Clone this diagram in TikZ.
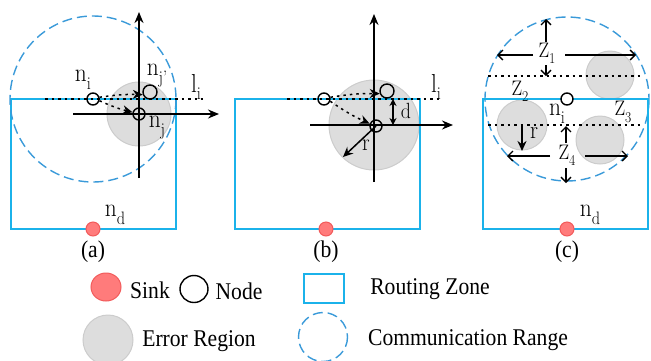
\documentclass[tikz,border=0pt]{standalone}
\usepackage{fontspec}
\newfontfamily\tnr{Liberation Serif}
\usetikzlibrary{arrows.meta}
\definecolor{zone}{HTML}{1BB2EA}
\definecolor{comm}{HTML}{3A9AD9}
\definecolor{errfill}{HTML}{DDDDDD}
\definecolor{errdraw}{HTML}{CCCCCC}
\definecolor{sinkfill}{HTML}{FF7B7B}
\definecolor{sinkdraw}{HTML}{F25A5A}
\newcommand\lab[4]{\scalebox{0.9}[1]{\fontsize{#1}{#1}\selectfont #3\raisebox{-0.3em}{\fontsize{#2}{#2}\selectfont #4}}}
\newcommand\leg[1]{\scalebox{0.9}[1]{\fontsize{24}{24}\selectfont\tnr #1}}
\tikzset{
  zonest/.style={draw=zone, line width=1.8pt},
  commst/.style={draw=comm, line width=1.4pt, dash pattern=on 10pt off 5pt},
  errst/.style={fill=errfill, draw=errdraw, line width=1pt},
  sinkst/.style={fill=sinkfill, draw=sinkdraw, line width=1pt},
  nd/.style={circle, draw, line width=1.4pt, minimum size=12pt, inner sep=0pt},
  ndb/.style={circle, draw, line width=1.4pt, minimum size=14pt, inner sep=0pt},
  dotline/.style={line width=1.5pt, dash pattern=on 2.5pt off 4pt},
  axis/.style={line width=1.6pt, -{Stealth[length=11pt,width=9pt]}},
  darr/.style={line width=1.5pt, dash pattern=on 2.5pt off 4pt, -{Stealth[length=10pt,width=9pt]}},
  zarr/.style={line width=1.3pt, -{Straight Barb[length=5pt,width=10pt]}},
  txt/.style={inner sep=0pt},
}
\begin{document}
\begin{tikzpicture}[x=1pt,y=-1pt]
\useasboundingbox (0,0) rectangle (651,360);
\clip (0,0) rectangle (651,360);
% ---------------- panel (a)
\draw[errst] (139,114) circle (32);
\draw[zonest] (11,99) rectangle (176,229);
\draw[commst] (93,99) circle (83);
\draw[dotline] (45,99) -- (203,99);
\coordinate (axl) at (73,114); \coordinate (axr) at (219,114);
\coordinate (axb) at (139,178); \coordinate (axt) at (139,12);
\draw[axis] (axl) -- (axr);
\draw[axis] (axb) -- (axt);
\node[nd] (ai) at (93,99) {};
\node[nd] (aj) at (139,114) {};
\node[ndb] (ajp) at (150,92) {};
\draw[darr] (ai.15) to[bend left=5] (ajp.200);
\draw[darr] (ai.-15) to[bend right=5] (aj.165);
\node[sinkst, circle, minimum size=14pt, inner sep=0pt] (ad) at (93,229) {};
\node[txt] (lai) at (83,80) {\lab{26}{18}{n}{i}};
\node[txt] (lajp) at (157,76) {\lab{26}{18}{n}{j’}};
\node[txt] (laj) at (157,128) {\lab{26}{18}{n}{j}};
\node[txt] (lali) at (196,87) {\lab{26}{18}{l}{i}};
\node[txt] (lad) at (115,215) {\lab{26}{18}{n}{d}};
\node[txt] (capa) at (93,252) {\leg{(a)}};
% ---------------- panel (b)
\draw[errst] (374,125) circle (45);
\draw[zonest] (235,99) rectangle (420,229);
\draw[dotline] (287,99) -- (441,99);
\coordinate (bxl) at (310,125); \coordinate (bxr) at (453,125);
\coordinate (bxb) at (374,182); \coordinate (bxt) at (374,14);
\draw[axis] (bxl) -- (bxr);
\draw[axis] (bxb) -- (bxt);
\node[nd] (bi) at (324,99) {};
\node[nd] (bj) at (376,126) {};
\node[ndb] (bjp) at (387,91) {};
\draw[darr] (bi.15) to[bend left=5] (bjp.200);
\draw[darr] (bi.-20) to[bend right=5] (bj.160);
\coordinate (dt) at (393,99); \coordinate (db) at (393,125);
\draw[line width=1.4pt, {Stealth[length=7pt,width=7pt]}-{Stealth[length=7pt,width=7pt]}] (dt) -- (db);
\node[txt] (ld) at (406,114) {\lab{22}{15}{d}{}};
\coordinate (rb) at (343,157);
\draw[line width=1.5pt, -{Stealth[length=10pt,width=9pt]}] (bj.center) -- (rb);
\node[txt] (lbr) at (366,149) {\lab{24}{16}{r}{}};
\node[txt] (lbli) at (436,87) {\lab{26}{18}{l}{i}};
\node[sinkst, circle, minimum size=14pt, inner sep=0pt] (bd) at (326,229) {};
\node[txt] (capb) at (326,252) {\leg{(b)}};
% ---------------- panel (c)
\draw[errst] (610,75) circle (24);
\draw[errst] (522,125) circle (25);
\draw[errst] (600,140) circle (24);
\draw[commst] (567,99) circle (82);
\draw[zonest] (483,99) rectangle (648,229);
\draw[dotline] (488,76) -- (641,76);
\draw[dotline] (488,125) -- (643,125);
\node[nd, fill=white] (ci) at (567,99) {};
% Z1
\node[txt] (z1) at (547,53) {\lab{21}{15}{Z}{1}};
\coordinate (z1t) at (546,19); \coordinate (z1b) at (546,76);
\coordinate (z1l) at (497,55); \coordinate (z1r) at (636,55);
\draw[zarr] (546,42) -- (z1t);
\draw[zarr] (546,65) -- (z1b);
\draw[zarr] (533,55) -- (z1l);
\draw[zarr] (565,55) -- (z1r);
\node[txt] (z2) at (520,91) {\lab{21}{15}{Z}{2}};
\node[txt] (z3) at (623,112) {\lab{21}{15}{Z}{3}};
\node[txt] (lci) at (557,114) {\lab{26}{18}{n}{i}};
% Z4
\node[txt] (z4) at (567,155) {\lab{21}{15}{Z}{4}};
\coordinate (z4t) at (566,126); \coordinate (z4b) at (566,183);
\coordinate (z4l) at (507,156); \coordinate (z4r) at (628,156);
\draw[zarr] (566,143) -- (z4t);
\draw[zarr] (566,168) -- (z4b);
\draw[zarr] (550,156) -- (z4l);
\draw[zarr] (585,156) -- (z4r);
\coordinate (rc0) at (522,125); \coordinate (rc1) at (522,151);
\draw[line width=1.6pt, -{Stealth[length=10pt,width=9pt]}] (rc0) -- (rc1);
\node[txt] (lcr) at (534,137) {\lab{25}{16}{r}{}};
\node[sinkst, circle, minimum size=14pt, inner sep=0pt] (cd) at (567,229) {};
\node[txt] (lcd) at (590,215) {\lab{26}{18}{n}{d}};
\node[txt] (capc) at (567,252) {\leg{(c)}};
% ---------------- legend
\draw[sinkst] (106,287) ellipse (15 and 14);
\node[txt] (lsink) at (150,290) {\leg{Sink}};
\draw[line width=1.4pt] (194,289) ellipse (14 and 13.5);
\node[txt] (lnode) at (239,291) {\leg{Node}};
\draw[zonest] (304,274) rectangle (344,303);
\node[txt] (lzone) at (430,289) {\leg{Routing Zone}};
\draw[errst] (108,340) circle (25);
\node[txt] (lerr) at (199,341) {\leg{Error Region}};
\draw[commst] (323,337) circle (24.5);
\node[txt] (lcomm) at (468,340) {\leg{Communication Range}};
\end{tikzpicture}
\end{document}
